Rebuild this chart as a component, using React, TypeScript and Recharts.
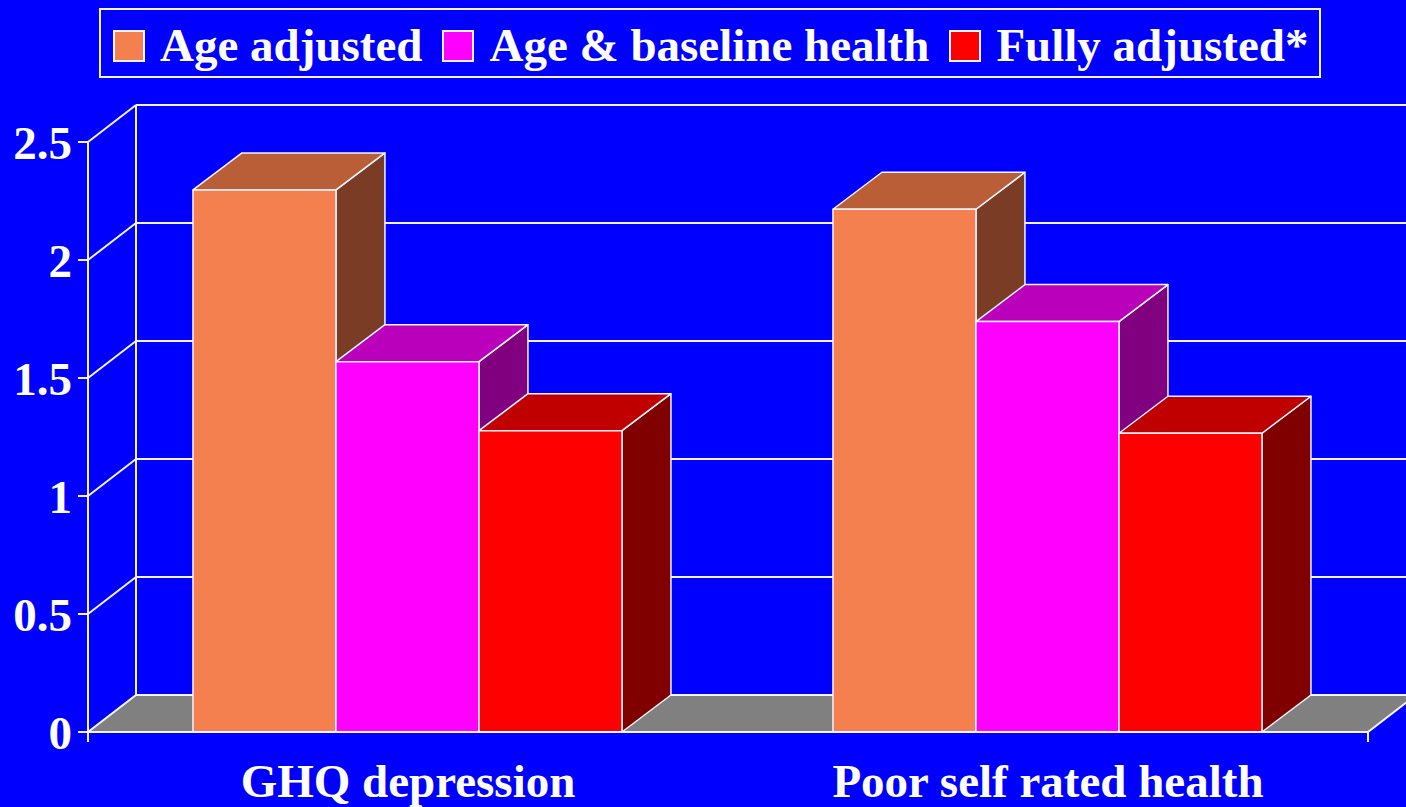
import { BarChart, Bar, XAxis, YAxis, CartesianGrid, Legend } from "recharts"

const categories = ["GHQ depression", "Poor self rated health"]
const ageAdjusted = [2.297, 2.215]
const ageBaseline = [1.569, 1.739]
const fullyAdjusted = [1.277, 1.266]
const yTicks = [0, 0.5, 1, 1.5, 2, 2.5]
const seriesNames = ["Age adjusted", "Age & baseline health", "Fully adjusted*"]

const data = categories.map((name, i) => ({
  name,
  age: ageAdjusted[i],
  base: ageBaseline[i],
  full: fullyAdjusted[i],
}))
const edgeTicks = categories.map((_, i) => i).concat([categories.length])

const FONT = "'Times New Roman', 'Liberation Serif', serif"
const LINE = "#f4f4ff"
const GRID_DX = 48
const GRID_DY = 37
const BAR_DX = 49
const BAR_DY = 37

const series = [
  { key: "age", name: seriesNames[0], front: "#F4804F", top: "#BA5E38", side: "#7B3C25" },
  { key: "base", name: seriesNames[1], front: "#FF00FF", top: "#BB00BB", side: "#800080" },
  { key: "full", name: seriesNames[2], front: "#FF0000", top: "#C00000", side: "#800000" },
]

function Box3D(props: any) {
  const { x, y, width: w, height: h, front, top, side } = props
  if (x == null || y == null) return null
  return (
    <g stroke={LINE} strokeWidth={1.5} strokeLinejoin="round">
      <polygon
        points={`${x + w},${y} ${x + w + BAR_DX},${y - BAR_DY} ${x + w + BAR_DX},${y + h - BAR_DY} ${x + w},${y + h}`}
        fill={side}
      />
      <polygon
        points={`${x},${y} ${x + BAR_DX},${y - BAR_DY} ${x + w + BAR_DX},${y - BAR_DY} ${x + w},${y}`}
        fill={top}
      />
      <rect x={x} y={y} width={w} height={h} fill={front} />
    </g>
  )
}

// back wall gridlines, side wall diagonals and the grey floor
function gridLine(p: any) {
  const { x1, x2, y1, index } = p
  const hasBox = p.y != null && p.height != null
  const isBottom = hasBox ? Math.abs(y1 - (p.y + p.height)) < 1 : index === 0
  const bx1 = x1 + GRID_DX
  const bx2 = x2 + GRID_DX
  const by = y1 - GRID_DY
  if (isBottom) {
    return (
      <g key={`floor-${index}`}>
        {hasBox && <line x1={bx1} y1={by} x2={bx1} y2={p.y - GRID_DY} stroke={LINE} strokeWidth={2} />}
        <polygon
          points={`${x1},${y1} ${x2},${y1} ${bx2},${by} ${bx1},${by}`}
          fill="#808080"
          stroke={LINE}
          strokeWidth={2}
        />
      </g>
    )
  }
  return (
    <g key={`grid-${index}`} stroke={LINE} strokeWidth={2}>
      <line x1={x1} y1={y1} x2={bx1} y2={by} />
      <line x1={bx1} y1={by} x2={bx2} y2={by} />
    </g>
  )
}

function renderLegend(props: any) {
  const items = [...(props.payload || [])].sort(
    (a: any, b: any) => seriesNames.indexOf(a.value) - seriesNames.indexOf(b.value)
  )
  return (
    <div
      style={{
        boxSizing: "border-box",
        width: 1222,
        height: 70,
        border: `2px solid ${LINE}`,
        display: "flex",
        alignItems: "center",
        paddingLeft: 12,
        paddingTop: 5,
        fontFamily: FONT,
        fontWeight: "bold",
        fontSize: 47,
        color: "#fff",
        whiteSpace: "nowrap",
      }}
    >
      {items.map((item: any, i: number) => (
        <div key={i} style={{ display: "flex", alignItems: "center", marginRight: 20 }}>
          <span
            style={{
              display: "inline-block",
              boxSizing: "border-box",
              width: 32,
              height: 32,
              background: item.color,
              border: `2px solid ${LINE}`,
              marginRight: 15,
            }}
          />
          <span style={{ lineHeight: 1 }}>{item.value}</span>
        </div>
      ))}
    </div>
  )
}

const tickStyle = { fill: "#fff", fontSize: 47, fontWeight: "bold", fontFamily: FONT }

export default function App() {
  return (
    <div style={{ position: "absolute", left: 0, top: 0, width: 1406, height: 807, background: "#0000FF" }}>
      <BarChart
        width={1406}
        height={807}
        data={data}
        margin={{ top: 142, right: 38, bottom: 0, left: 0 }}
        barCategoryGap="16.4%"
        barGap={0}
      >
        <CartesianGrid xAxisId="b_cat" vertical={false} horizontal={gridLine} />
        <XAxis
          xAxisId="a_edge"
          type="number"
          domain={[0, categories.length]}
          ticks={edgeTicks}
          allowDataOverflow
          tickFormatter={() => ""}
          tickSize={10}
          height={10}
          axisLine={{ stroke: LINE, strokeWidth: 2 }}
          tickLine={{ stroke: LINE, strokeWidth: 2 }}
        />
        <XAxis
          xAxisId="b_cat"
          dataKey="name"
          height={65}
          interval={0}
          axisLine={false}
          tickLine={false}
          tickSize={0}
          tickMargin={22}
          tick={tickStyle}
        />
        <YAxis
          domain={[0, 2.5]}
          ticks={yTicks}
          interval={0}
          width={88}
          tickSize={10}
          tickMargin={6}
          tick={tickStyle}
          axisLine={{ stroke: LINE, strokeWidth: 2 }}
          tickLine={{ stroke: LINE, strokeWidth: 2 }}
        />
        <Legend
          layout="horizontal"
          verticalAlign="middle"
          align="center"
          wrapperStyle={{ top: 8, left: 99, width: 1222, height: 70 }}
          content={renderLegend}
        />
        {series.map((s) => (
          <Bar
            key={s.key}
            xAxisId="b_cat"
            dataKey={s.key}
            name={s.name}
            fill={s.front}
            isAnimationActive={false}
            shape={(p: any) => <Box3D {...p} front={s.front} top={s.top} side={s.side} />}
          />
        ))}
      </BarChart>
    </div>
  )
}
